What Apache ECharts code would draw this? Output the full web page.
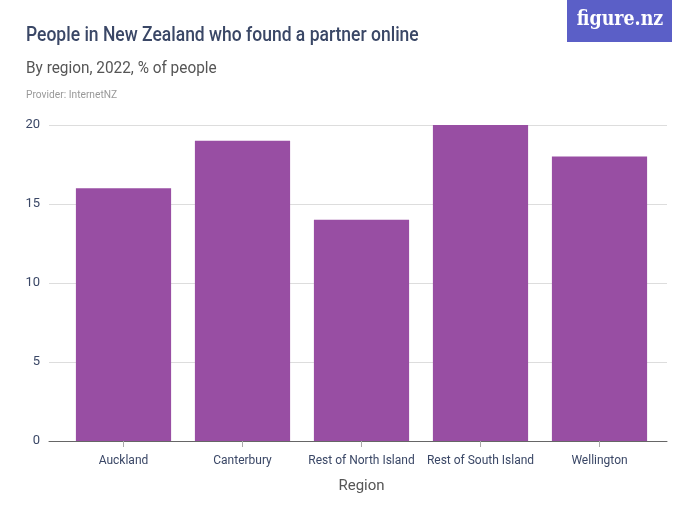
<!DOCTYPE html>
<html><head><meta charset="utf-8">
<script src="https://cdn.jsdelivr.net/npm/echarts@6/dist/echarts.min.js"></script>
<style>html,body{margin:0;padding:0;background:#fff}#c{width:700px;height:525px}</style>
</head><body><div id="c"></div>
<script>
const categories = ["Auckland", "Canterbury", "Rest of North Island", "Rest of South Island", "Wellington"];
const values = [16, 19, 14, 20, 18];
const yTicks = [0, 5, 10, 15, 20];

const FONT = "Roboto, sans-serif";
const chart = echarts.init(document.getElementById('c'), null, {renderer: 'canvas'});
chart.setOption({
  animation: false,
  textStyle: {fontFamily: FONT},
  graphic: [
    {type: 'rect', shape: {x: 567, y: 0, width: 105, height: 42}, style: {fill: '#5b5fc7'}},
    {type: 'text', x: 620, y: 20, scaleX: 0.83, style: {text: 'figure.nz', fill: '#fff', font: "bold 21px 'DejaVu Serif', serif", textAlign: 'center', textVerticalAlign: 'middle'}},
    {type: 'text', x: 26, y: 36, scaleX: 0.875, style: {text: 'People in New Zealand who found a partner online', fill: '#3a4766', font: "500 20px " + FONT, textVerticalAlign: 'middle'}},
    {type: 'text', x: 26, y: 69, scaleX: 0.96, style: {text: 'By region, 2022, % of people', fill: '#555', font: "16px " + FONT, textVerticalAlign: 'middle'}},
    {type: 'text', x: 26, y: 95, scaleX: 0.93, style: {text: 'Provider: InternetNZ', fill: '#999', font: "11px " + FONT, textVerticalAlign: 'middle'}}
  ],
  grid: [
    {left: 49, right: 33, top: 125, bottom: 84},
    {left: 64, right: 41, top: 125, bottom: 84}
  ],
  xAxis: [{
    gridIndex: 0, type: 'category', data: [''],
    axisLine: {lineStyle: {color: '#666', width: 1}},
    axisTick: {show: false}, axisLabel: {show: false}
  }, {
    gridIndex: 1, type: 'category', data: categories,
    name: 'Region', nameLocation: 'middle', nameGap: 38,
    nameTextStyle: {color: '#555', fontSize: 15, fontFamily: FONT},
    axisLine: {show: false},
    axisTick: {show: true, alignWithLabel: true, length: 6, lineStyle: {color: '#aaa'}},
    axisLabel: {color: '#3a4766', fontSize: 12, margin: 14, interval: 0, fontFamily: FONT}
  }],
  yAxis: [{
    gridIndex: 0, type: 'value', min: yTicks[0], max: yTicks[yTicks.length - 1], interval: 5,
    axisLine: {show: false}, axisTick: {show: false},
    splitLine: {lineStyle: {color: '#ddd'}},
    axisLabel: {color: '#3a4766', fontSize: 13, margin: 9, fontFamily: FONT}
  }, {
    gridIndex: 1, type: 'value', min: yTicks[0], max: yTicks[yTicks.length - 1], interval: 5,
    show: false
  }],
  series: [{
    type: 'bar', xAxisIndex: 1, yAxisIndex: 1, data: values, barCategoryGap: '20%',
    itemStyle: {color: '#984ea3'}
  }]
});
</script></body></html>
